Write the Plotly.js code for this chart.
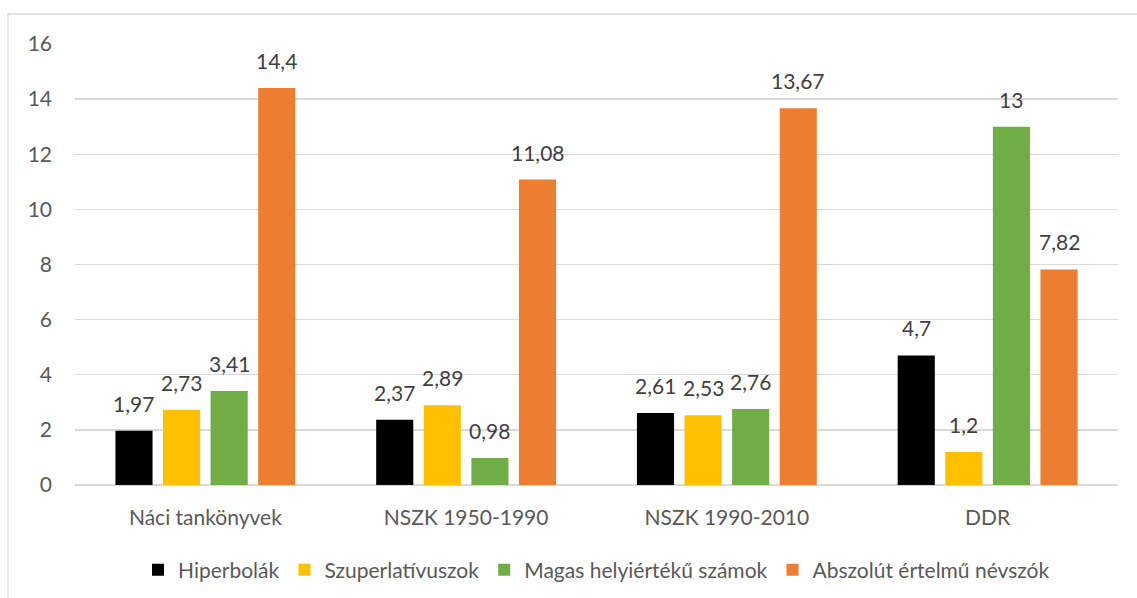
<!DOCTYPE html>
<html><head><meta charset="utf-8">
<script src="https://cdn.plot.ly/plotly-3.0.1.min.js"></script>
<style>html,body{margin:0;padding:0;background:#fff}</style>
</head><body><div id="chart" style="width:1137px;height:598px"></div>
<script>
const categories = ["Náci tankönyvek", "NSZK 1950-1990", "NSZK 1990-2010", "DDR"];
const seriesNames = ["Hiperbolák", "Szuperlatívuszok", "Magas helyiértékű számok", "Abszolút értelmű névszók"];
const hiperbolak = [1.97, 2.37, 2.61, 4.7];
const szuperlativuszok = [2.73, 2.89, 2.53, 1.2];
const magas = [3.41, 0.98, 2.76, 13];
const abszolut = [14.4, 11.08, 13.67, 7.82];
const colors = ["#000000", "#FFC000", "#70AD47", "#ED7D31"];
const allSeries = [hiperbolak, szuperlativuszok, magas, abszolut];

const fontFam = "Lato, 'Open Sans', sans-serif";
const fmt = v => String(v).replace(".", ",");
const traces = allSeries.map((vals, i) => ({
  type: "bar",
  name: seriesNames[i],
  x: categories,
  y: vals,
  marker: {color: colors[i]},
  cliponaxis: false,
  hoverinfo: "x+y"
}));

const L = 75, R = 19, T = 44, B = 113, W = 1137, H = 598;
const pw = W - L - R, ph = H - T - B;
const bargap = 0.27;
const slot = (pw / categories.length) * (1 - bargap) / allSeries.length;

const annotations = [];
allSeries.forEach((vals, i) => {
  vals.forEach((v, j) => {
    annotations.push({
      x: categories[j], y: v, xref: "x", yref: "y",
      text: fmt(v), showarrow: false,
      xanchor: "center", yanchor: "bottom",
      xshift: (i - (allSeries.length - 1) / 2) * slot, yshift: 13,
      font: {family: fontFam, size: 21, color: "#404040"}
    });
  });
});

const layout = {
  width: W, height: H,
  margin: {l: L, r: R, t: T, b: B, pad: 0, autoexpand: false},
  paper_bgcolor: "#fff", plot_bgcolor: "#fff",
  barmode: "group", bargap: bargap, bargroupgap: 0.22,
  font: {family: fontFam, color: "#595959"},
  xaxis: {
    tickfont: {family: fontFam, size: 21, color: "#595959"},
    showgrid: false, zeroline: false, showline: false, ticks: "",
    ticklabelstandoff: 18
  },
  yaxis: {
    range: [0, 16], dtick: 2, tick0: 0,
    showgrid: true, gridcolor: "#D9D9D9", gridwidth: 1.3,
    zeroline: true, zerolinecolor: "#D9D9D9", zerolinewidth: 1.3,
    showline: false, ticks: "",
    tickfont: {family: fontFam, size: 21, color: "#595959"},
    ticklabelstandoff: 22
  },
  showlegend: true,
  legend: {
    orientation: "h", x: 0.5, xanchor: "center",
    y: (H - B - 570) / ph, yanchor: "middle",
    font: {family: fontFam, size: 21, color: "#595959"},
    traceorder: "normal", itemwidth: 30
  },
  annotations: annotations,
  shapes: [{
    type: "rect", xref: "paper", yref: "paper",
    x0: (8 - L) / pw, x1: (1160 - L) / pw,
    y0: (H - B - 620) / ph, y1: (H - B - 14) / ph,
    line: {color: "#D9D9D9", width: 1.3}, fillcolor: "rgba(0,0,0,0)", layer: "below"
  }]
};
Plotly.newPlot("chart", traces, layout, {displayModeBar: false, staticPlot: true});
</script></body></html>
